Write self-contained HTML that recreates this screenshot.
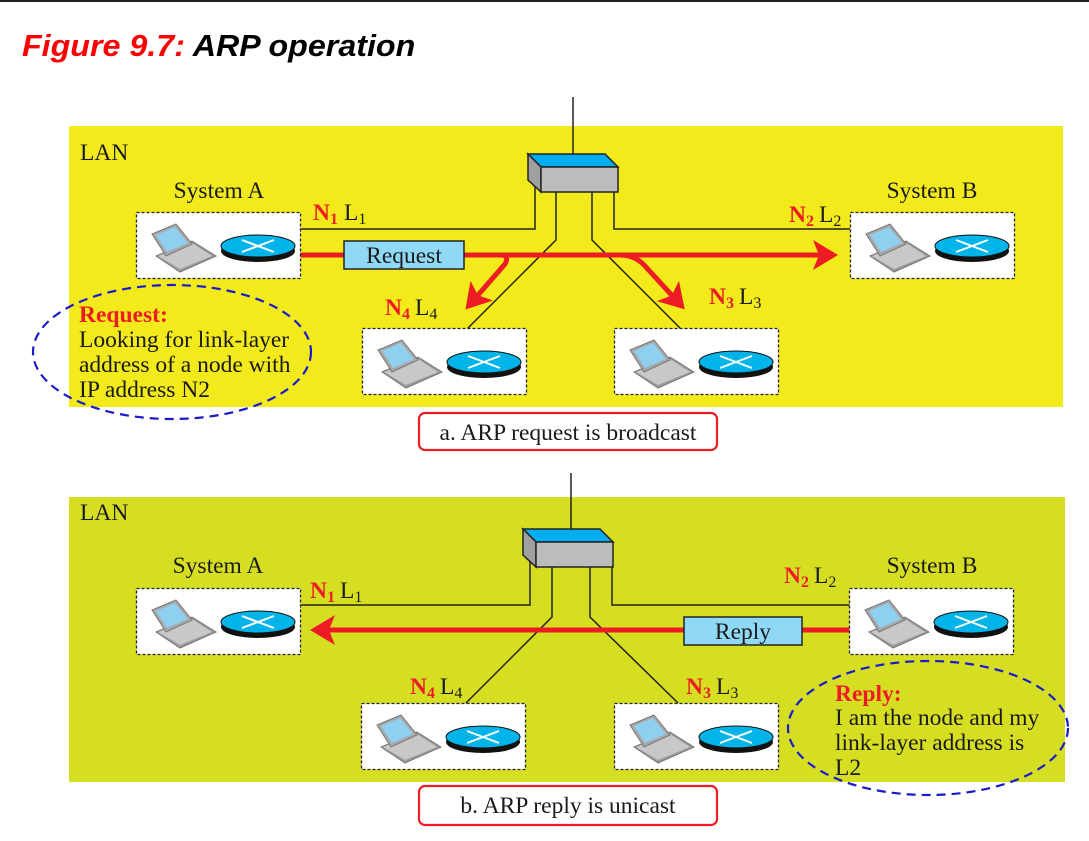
<!DOCTYPE html>
<html><head><meta charset="utf-8"><style>
html,body{margin:0;padding:0;background:#fff;}
svg{display:block;}
.s{font-family:"Liberation Serif",serif;font-size:23.5px;fill:#1a1a1a;}
.r{font-family:"Liberation Serif",serif;font-size:23.5px;fill:#ed1c24;font-weight:bold;}
</style></head><body>
<svg width="1089" height="841" viewBox="0 0 1089 841" xmlns="http://www.w3.org/2000/svg">
<defs>
<g id="node">
<rect x="0.5" y="0.5" width="164" height="66" fill="#fff" stroke="#222" stroke-width="1.3" stroke-dasharray="3,2"/>
<polygon points="20,44 56,29 80,44 44,60" fill="#9a9a9a" stroke="#777" stroke-width="1"/>
<polygon points="22,44 56,31 76,44 44,57" fill="#c8c8c8"/>
<polygon points="16,22 40,12 56,32 30,44" fill="#a8a8a8" stroke="#777" stroke-width="1"/>
<polygon points="20,23 39,15 52,31 31,40" fill="#8fd0f0"/>
<ellipse cx="122" cy="39" rx="37" ry="11" fill="#111"/>
<ellipse cx="122" cy="34" rx="37" ry="11" fill="#00b4ea" stroke="#111" stroke-width="1"/>
<line x1="106" y1="28" x2="138" y2="40" stroke="#fff" stroke-width="2"/>
<line x1="106" y1="40" x2="138" y2="28" stroke="#fff" stroke-width="2"/>
</g>
<g id="sw">
<polygon points="0,0 77,0 90,13 13,13" fill="#00aeef" stroke="#222" stroke-width="1.5"/>
<polygon points="0,0 13,13 13,38 0,26" fill="#a0a0a0" stroke="#222" stroke-width="1.5"/>
<rect x="13" y="13" width="77" height="25" fill="#bcbcbc" stroke="#222" stroke-width="1.5"/>
</g>
<marker id="ah" markerWidth="7" markerHeight="7" refX="3" refY="3" orient="auto" markerUnits="strokeWidth"><path d="M0,0 L5,3 L0,6 L1.2,3 Z" fill="#ed1c24"/></marker>
</defs>
<rect x="0" y="0" width="1089" height="2" fill="#222"/>
<text x="22" y="56" transform="translate(22,0) scale(1.04,1) translate(-22,0)" font-family="Liberation Sans,sans-serif" font-size="31" font-style="italic" font-weight="bold"><tspan fill="#ff0000">Figure 9.7:</tspan><tspan fill="#000">  ARP operation</tspan></text>

<!-- TOP PANEL -->
<rect x="69" y="126" width="994" height="281" fill="#f2ea1a"/>
<line x1="573" y1="97" x2="573" y2="154" stroke="#222" stroke-width="1.5"/>
<text x="80" y="160" class="s">LAN</text>
<polyline points="535,180 535,229 300,229" fill="none" stroke="#222" stroke-width="1.5"/>
<polyline points="614,190 614,229 850,229" fill="none" stroke="#222" stroke-width="1.5"/>
<polyline points="556,192 556,240 468,328" fill="none" stroke="#222" stroke-width="1.5"/>
<polyline points="592,192 592,240 680,328" fill="none" stroke="#222" stroke-width="1.5"/>
<use href="#sw" x="528" y="154"/>
<line x1="300" y1="255" x2="828" y2="255" stroke="#ed1c24" stroke-width="5" marker-end="url(#ah)"/>
<path d="M500,255 Q510,255 505,264 L472,302" fill="none" stroke="#ed1c24" stroke-width="5" marker-end="url(#ah)"/>
<path d="M620,255 Q635,255 645,266 L678,302" fill="none" stroke="#ed1c24" stroke-width="5" marker-end="url(#ah)"/>
<rect x="344" y="241" width="120" height="28" fill="#8fd8f6" stroke="#222" stroke-width="1.5"/>
<text x="404" y="263" class="s" text-anchor="middle">Request</text>
<use href="#node" x="136" y="212"/>
<use href="#node" x="850" y="212"/>
<use href="#node" x="362" y="328"/>
<use href="#node" x="614" y="328"/>
<text x="219" y="198" class="s" text-anchor="middle">System A</text>
<text x="932" y="198" class="s" text-anchor="middle">System B</text>
<text x="313" y="220" class="r">N<tspan font-size="16" dy="4">1</tspan></text><text x="344" y="220" class="s">L<tspan font-size="16" dy="4">1</tspan></text>
<text x="789" y="222" class="r">N<tspan font-size="16" dy="4">2</tspan></text><text x="819" y="222" class="s">L<tspan font-size="16" dy="4">2</tspan></text>
<text x="385" y="315" class="r">N<tspan font-size="16" dy="4">4</tspan></text><text x="415" y="315" class="s">L<tspan font-size="16" dy="4">4</tspan></text>
<text x="709" y="304" class="r">N<tspan font-size="16" dy="4">3</tspan></text><text x="739" y="304" class="s">L<tspan font-size="16" dy="4">3</tspan></text>
<ellipse cx="172" cy="352" rx="139" ry="67" fill="none" stroke="#1a1acc" stroke-width="2.2" stroke-dasharray="9,6"/>
<text x="79" y="322" class="r">Request:</text>
<text x="79" y="347" class="s">Looking for link-layer</text>
<text x="79" y="372" class="s">address of a node with</text>
<text x="79" y="397" class="s">IP address N2</text>
<rect x="419" y="413" width="298" height="37" rx="6" fill="#fff" stroke="#ed1c24" stroke-width="2.2"/>
<text x="568" y="440" class="s" text-anchor="middle">a. ARP request is broadcast</text>

<!-- BOTTOM PANEL -->
<rect x="69" y="497" width="996" height="285" fill="#d6de22"/>
<line x1="571" y1="473" x2="571" y2="529" stroke="#222" stroke-width="1.5"/>
<text x="80" y="520" class="s">LAN</text>
<polyline points="530,555 530,605 300,605" fill="none" stroke="#222" stroke-width="1.5"/>
<polyline points="612,565 612,605 850,605" fill="none" stroke="#222" stroke-width="1.5"/>
<polyline points="552,567 552,617 466,703" fill="none" stroke="#222" stroke-width="1.5"/>
<polyline points="590,567 590,617 678,703" fill="none" stroke="#222" stroke-width="1.5"/>
<use href="#sw" x="523" y="529"/>
<line x1="850" y1="630" x2="320" y2="630" stroke="#ed1c24" stroke-width="5" marker-end="url(#ah)"/>
<rect x="684" y="617" width="118" height="28" fill="#8fd8f6" stroke="#222" stroke-width="1.5"/>
<text x="743" y="639" class="s" text-anchor="middle">Reply</text>
<use href="#node" x="136" y="588"/>
<use href="#node" x="849" y="588"/>
<use href="#node" x="361" y="703"/>
<use href="#node" x="614" y="703"/>
<text x="218" y="573" class="s" text-anchor="middle">System A</text>
<text x="932" y="573" class="s" text-anchor="middle">System B</text>
<text x="310" y="598" class="r">N<tspan font-size="16" dy="4">1</tspan></text><text x="340" y="598" class="s">L<tspan font-size="16" dy="4">1</tspan></text>
<text x="784" y="583" class="r">N<tspan font-size="16" dy="4">2</tspan></text><text x="814" y="583" class="s">L<tspan font-size="16" dy="4">2</tspan></text>
<text x="410" y="694" class="r">N<tspan font-size="16" dy="4">4</tspan></text><text x="440" y="694" class="s">L<tspan font-size="16" dy="4">4</tspan></text>
<text x="686" y="694" class="r">N<tspan font-size="16" dy="4">3</tspan></text><text x="716" y="694" class="s">L<tspan font-size="16" dy="4">3</tspan></text>
<ellipse cx="928" cy="728" rx="140" ry="67" fill="none" stroke="#1a1acc" stroke-width="2.2" stroke-dasharray="9,6"/>
<text x="835" y="701" class="r">Reply:</text>
<text x="835" y="725" class="s">I am the node and my</text>
<text x="835" y="750" class="s">link-layer address is</text>
<text x="835" y="775" class="s">L2</text>
<rect x="419" y="786" width="298" height="39" rx="6" fill="#fff" stroke="#ed1c24" stroke-width="2.2"/>
<text x="568" y="813" class="s" text-anchor="middle">b. ARP reply is unicast</text>
</svg>
</body></html>
